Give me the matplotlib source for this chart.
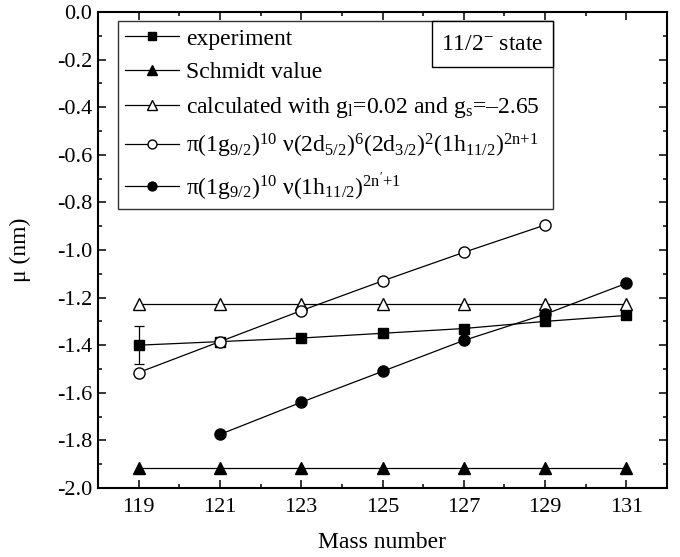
import matplotlib
matplotlib.use("Agg")
import matplotlib.pyplot as plt
from matplotlib.ticker import MultipleLocator, FuncFormatter
from matplotlib.patches import Rectangle

plt.rcParams['font.family'] = ['Liberation Serif', 'DejaVu Serif']
plt.rcParams['mathtext.fontset'] = 'custom'
plt.rcParams['mathtext.rm'] = 'Liberation Serif'
plt.rcParams['mathtext.it'] = 'Liberation Serif:italic'
plt.rcParams['mathtext.default'] = 'regular'

mass = [119, 121, 123, 125, 127, 129, 131]
experiment = [-1.40, -1.385, -1.37, -1.35, -1.33, -1.30, -1.275]
exp_err = [0.08, 0, 0, 0, 0, 0, 0]
schmidt = [-1.915] * 7
calculated = [-1.225] * 7
mass_open = [119, 121, 123, 125, 127, 129]
open_circ = [-1.515, -1.385, -1.255, -1.13, -1.01, -0.895]
mass_fill = [121, 123, 125, 127, 129, 131]
fill_circ = [-1.775, -1.64, -1.51, -1.38, -1.27, -1.14]

labels = [
    'experiment',
    'Schmidt value',
    r'calculated with g$_{l}$=0.02 and g$_{s}$=–2.65',
    r'π(1g$_{9/2}$)$^{10}$ ν(2d$_{5/2}$)$^{6}$(2d$_{3/2}$)$^{2}$(1h$_{11/2}$)$^{2n{+}1}$',
    r"π(1g$_{9/2}$)$^{10}$ ν(1h$_{11/2}$)$^{2n'{+}1}$",
]

fig = plt.figure(figsize=(6.8, 5.57), dpi=100)
ax = fig.add_axes([0.144, 0.1239, 0.837, 0.8546])

lw = 0.9
ax.errorbar(mass[:1], experiment[:1], yerr=exp_err[:1], fmt='none', ecolor='black',
            elinewidth=lw, capsize=3.5, capthick=lw)
h1, = ax.plot(mass, experiment, color='black', marker='s', ms=7.2, lw=lw)
h2, = ax.plot(mass, schmidt, color='black', marker='^', ms=8.5, lw=lw)
h3, = ax.plot(mass, calculated, color='black', marker='^', ms=8.5, mfc='white', lw=lw)
h4, = ax.plot(mass_open, open_circ, color='black', marker='o', ms=8, mfc='white', lw=lw)
h5, = ax.plot(mass_fill, fill_circ, color='black', marker='o', ms=8, lw=lw)

ax.set_xlim(118, 132)
ax.set_ylim(-2.0, 0.0)
ax.set_xticks(mass)
ax.xaxis.set_minor_locator(MultipleLocator(1))
ax.yaxis.set_major_locator(MultipleLocator(0.2))
ax.yaxis.set_minor_locator(MultipleLocator(0.1))
ax.yaxis.set_major_formatter(FuncFormatter(lambda v, p: "0.0" if abs(v) < 1e-9 else f"{v:.1f}"))
ax.tick_params(which='both', direction='in', top=True, right=True, labelsize=16, width=1.1)
ax.tick_params(which='major', length=6)
ax.tick_params(which='minor', length=3)
ax.tick_params(axis='x', pad=7)
ax.tick_params(axis='y', pad=4)
for s in ax.spines.values():
    s.set_linewidth(1.5)

ax.set_xlabel('Mass number', fontsize=17)
ax.xaxis.set_label_coords(0.5, -0.092)
ax.set_ylabel('μ (nm)', fontsize=17)
ax.yaxis.set_label_coords(-0.118, 0.5)

leg = ax.legend([h1, h2, h3, h4, h5], labels, loc='upper left',
                bbox_to_anchor=(0.035, 0.0, 0.765, 0.981), mode='expand', fontsize=17,
                frameon=True, fancybox=False, edgecolor='black', handlelength=2.3,
                handletextpad=0.3, labelspacing=0.5, borderpad=0.3, borderaxespad=0,
                markerscale=0.8)
leg.get_frame().set_linewidth(1.0)

# "11/2- state" box in the upper right corner of the legend
ax.add_patch(Rectangle((0.587, 0.884), 0.213, 0.097, transform=ax.transAxes,
                       fc='white', ec='black', lw=1.0, zorder=10))
ax.text(0.6935, 0.9325, r'11/2$^{-}$ state', transform=ax.transAxes, fontsize=17,
        ha='center', va='center', zorder=11)

fig.savefig('out.png', dpi=100)
